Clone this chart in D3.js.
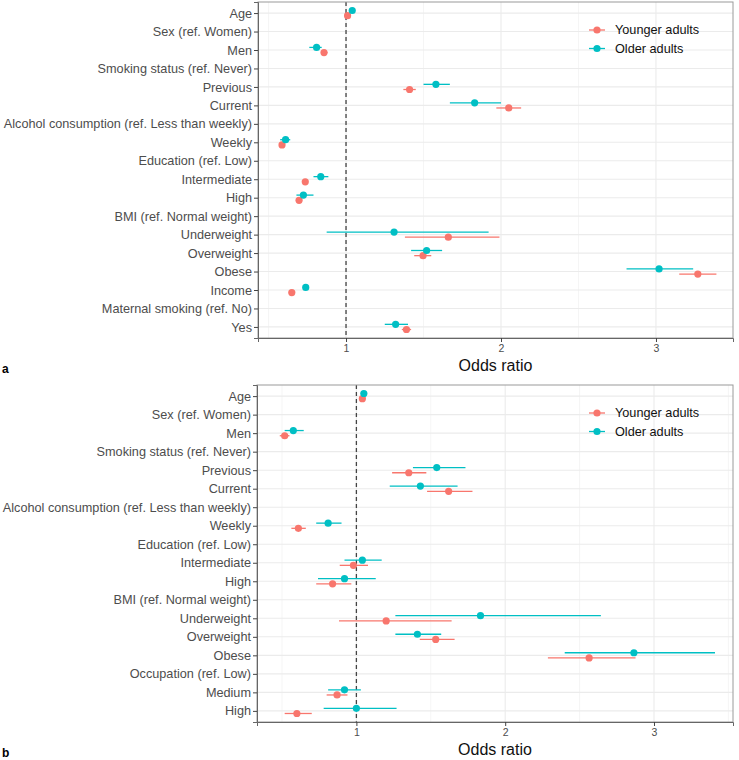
<!DOCTYPE html>
<html>
<head>
<meta charset="utf-8">
<script src="https://cdn.jsdelivr.net/npm/d3@7"></script>
<style>
  body { margin: 0; background: #fff; }
  text { font-family: "Liberation Sans", Arial, sans-serif; }
</style>
</head>
<body>
<script>
// Panel a data
const catsA = ['Age', 'Sex (ref. Women)', 'Men', 'Smoking status (ref. Never)', 'Previous', 'Current',
  'Alcohol consumption (ref. Less than weekly)', 'Weekly', 'Education (ref. Low)', 'Intermediate', 'High',
  'BMI (ref. Normal weight)', 'Underweight', 'Overweight', 'Obese', 'Income', 'Maternal smoking (ref. No)', 'Yes'];
// [estimate, lower, upper], null for reference rows
const youngA = [[1.01, 1.00, 1.02], null, [0.858, 0.84, 0.88], null, [1.41, 1.37, 1.45], [2.05, 1.97, 2.13],
  null, [0.587, 0.57, 0.60], null, [0.737, 0.72, 0.755], [0.697, 0.68, 0.715],
  null, [1.66, 1.38, 1.99], [1.497, 1.44, 1.55], [3.27, 3.15, 3.39], [0.65, 0.645, 0.655], null, [1.39, 1.36, 1.42]];
const oldA = [[1.04, 1.03, 1.05], null, [0.81, 0.763, 0.843], null, [1.58, 1.50, 1.67], [1.83, 1.67, 2.00],
  null, [0.61, 0.575, 0.64], null, [0.837, 0.79, 0.886], [0.725, 0.68, 0.79],
  null, [1.31, 0.875, 1.92], [1.52, 1.42, 1.62], [3.02, 2.81, 3.24], [0.74, 0.735, 0.745], null, [1.32, 1.25, 1.40]];

// Panel b data
const catsB = ['Age', 'Sex (ref. Women)', 'Men', 'Smoking status (ref. Never)', 'Previous', 'Current',
  'Alcohol consumption (ref. Less than weekly)', 'Weekly', 'Education (ref. Low)', 'Intermediate', 'High',
  'BMI (ref. Normal weight)', 'Underweight', 'Overweight', 'Obese', 'Occupation (ref. Low)', 'Medium', 'High'];
const youngB = [[1.04, 1.03, 1.05], null, [0.518, 0.485, 0.55], null, [1.352, 1.24, 1.47], [1.62, 1.475, 1.78],
  null, [0.61, 0.563, 0.66], null, [0.98, 0.888, 1.078], [0.84, 0.73, 0.966],
  null, [1.20, 0.883, 1.64], [1.533, 1.426, 1.66], [2.564, 2.287, 2.876], null, [0.87, 0.80, 0.94], [0.60, 0.518, 0.70]];
const oldB = [[1.05, 1.04, 1.06], null, [0.576, 0.518, 0.646], null, [1.54, 1.38, 1.733], [1.43, 1.224, 1.68],
  null, [0.81, 0.73, 0.90], null, [1.04, 0.92, 1.17], [0.92, 0.742, 1.13],
  null, [1.834, 1.262, 2.643], [1.41, 1.262, 1.57], [2.865, 2.40, 3.41], null, [0.92, 0.81, 1.03], [1.00, 0.78, 1.27]];

const xTicks = [1, 2, 3];
const xMinor = [0.5, 1.5, 2.5, 3.5];
const groups = ['Younger adults', 'Older adults'];
const colors = ['#F8766D', '#00BFC4'];

const W = 739, H = 760;
const svg = d3.select('body').append('svg').attr('width', W).attr('height', H);

function panel(cfg) {
  const { cats, series, left, right, top, bottom, domain, tag, legendY } = cfg;
  const g = svg.append('g');
  const x = d3.scaleLinear().domain(domain).range([left, right]);
  const y = d3.scalePoint().domain(d3.range(cats.length)).range([top, bottom]).padding(0.6);
  const dodge = y.step() * 0.14;

  // grid
  g.selectAll('.minor').data(xMinor.filter(v => v > domain[0] && v < domain[1]))
    .join('line').attr('x1', d => x(d)).attr('x2', d => x(d)).attr('y1', top).attr('y2', bottom)
    .attr('stroke', '#f2f2f2').attr('stroke-width', 0.8);
  g.selectAll('.majx').data(xTicks).join('line')
    .attr('x1', d => x(d)).attr('x2', d => x(d)).attr('y1', top).attr('y2', bottom)
    .attr('stroke', '#ebebeb').attr('stroke-width', 1.1);
  g.selectAll('.majy').data(d3.range(cats.length)).join('line')
    .attr('x1', left).attr('x2', right).attr('y1', d => y(d)).attr('y2', d => y(d))
    .attr('stroke', '#ebebeb').attr('stroke-width', 1.1);

  // reference line
  g.append('line').attr('x1', x(1)).attr('x2', x(1)).attr('y1', top).attr('y2', bottom)
    .attr('stroke', '#444').attr('stroke-width', 1.3).attr('stroke-dasharray', '4,3');

  // series
  series.forEach((s, si) => {
    const off = si === 0 ? dodge : -dodge;
    const pts = s.map((d, i) => d ? { i, est: d[0], lo: d[1], hi: d[2] } : null).filter(Boolean);
    g.selectAll(null).data(pts).join('line')
      .attr('x1', d => x(d.lo)).attr('x2', d => x(d.hi))
      .attr('y1', d => y(d.i) + off).attr('y2', d => y(d.i) + off)
      .attr('stroke', colors[si]).attr('stroke-width', 1.3);
    g.selectAll(null).data(pts).join('circle')
      .attr('cx', d => x(d.est)).attr('cy', d => y(d.i) + off).attr('r', 3.6)
      .attr('fill', colors[si]);
  });

  // border
  g.append('rect').attr('x', left).attr('y', top).attr('width', right - left).attr('height', bottom - top)
    .attr('fill', 'none').attr('stroke', '#9a9a9a').attr('stroke-width', 1);

  // axes
  const ax = g.append('g').attr('transform', `translate(${left},0)`)
    .call(d3.axisLeft(y).tickSize(4).tickPadding(2).tickFormat(i => cats[i]));
  ax.select('.domain').attr('stroke', '#666');
  ax.selectAll('.tick line').attr('stroke', '#444');
  ax.selectAll('.tick text').attr('fill', '#4d4d4d').style('font-size', '12.7px');

  const bx = g.append('g').attr('transform', `translate(0,${bottom})`)
    .call(d3.axisBottom(x).tickValues(xTicks).tickSize(4).tickPadding(3).tickFormat(d3.format('d')));
  bx.select('.domain').attr('stroke', '#666');
  bx.selectAll('.tick line').attr('stroke', '#444');
  bx.selectAll('.tick text').attr('fill', '#4d4d4d').style('font-size', '10.5px');

  g.append('text').attr('x', (left + right) / 2).attr('y', bottom + 33).attr('text-anchor', 'middle')
    .style('font-size', '16px').attr('fill', '#111').text('Odds ratio');

  g.append('text').attr('x', 2).attr('y', bottom + 35).style('font-size', '12px')
    .style('font-weight', 'bold').text(tag);

  // legend
  const lg = g.append('g');
  groups.forEach((name, i) => {
    const ly = legendY + i * 18.5;
    lg.append('line').attr('x1', 589).attr('x2', 605).attr('y1', ly).attr('y2', ly)
      .attr('stroke', colors[i]).attr('stroke-width', 1.3);
    lg.append('circle').attr('cx', 597).attr('cy', ly).attr('r', 3.6).attr('fill', colors[i]);
    lg.append('text').attr('x', 615).attr('y', ly).attr('dy', '0.35em')
      .style('font-size', '12.7px').attr('fill', '#111').text(name);
  });
}

panel({ cats: catsA, series: [youngA, oldA], left: 258, right: 733, top: 2, bottom: 338,
  domain: [0.432, 3.497], tag: 'a', legendY: 30 });
panel({ cats: catsB, series: [youngB, oldB], left: 257, right: 733, top: 385, bottom: 722,
  domain: [0.332, 3.531], tag: 'b', legendY: 413 });
</script>
</body>
</html>
